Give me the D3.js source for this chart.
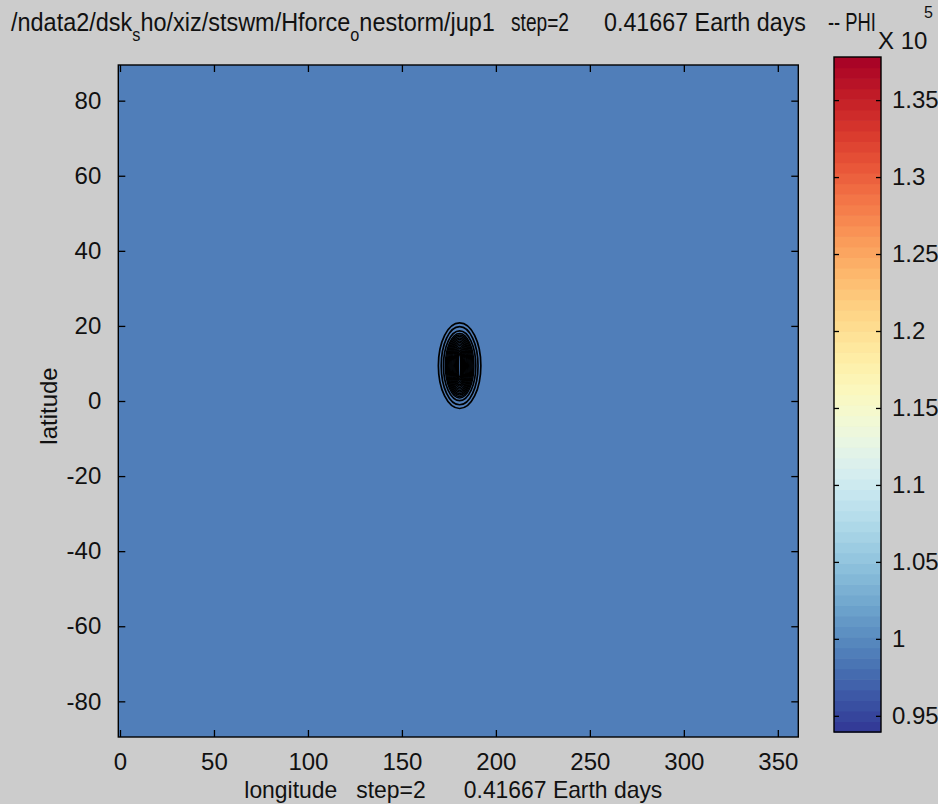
<!DOCTYPE html>
<html>
<head>
<meta charset="utf-8">
<script src="https://cdn.jsdelivr.net/npm/d3@7"></script>
<style>
  html, body { margin: 0; padding: 0; background: #cccccc; }
  svg { display: block; }
  text { font-family: "Liberation Sans", Arial, Helvetica, sans-serif; fill: #111; }
</style>
</head>
<body>
<svg id="fig" width="938" height="804"></svg>
<script>
// ---- data (PHI in units of 1e5) ----
const lonTicks = [0, 50, 100, 150, 200, 250, 300, 350];
const latTicks = [-80, -60, -40, -20, 0, 20, 40, 60, 80];
const phiTicks = [0.95, 1, 1.05, 1.1, 1.15, 1.2, 1.25, 1.3, 1.35];
const lonLimits = [-0.9, 360.9];
const latLimits = [-89.5, 89.5];
const phiLimits = [0.9395, 1.378];
const colorSteps = 64;
const ambientPhi = 0.99;

// storm centre and nested contour rings of the height anomaly (half-widths in degrees)
const stormLon = 180.7;
const stormLat = 9.4;
const ringHalfLon = [11.3, 9.8, 8.6, 7.6, 7.1, 6.6, 6.1, 5.6, 5.1, 4.6, 4.1, 3.6, 3.1, 2.6, 2.1, 1.6, 1.1, 0.6];
const ringHalfLat = [11.4, 10.4, 9.3, 8.6, 8.2, 7.8, 7.4, 7.0, 6.6, 6.2, 5.8, 5.4, 5.0, 4.6, 4.2, 3.8, 3.4, 3.0];

const titleParts = [
  { x: 11,  w: 484, y: 31, segs: [["/ndata2/dsk", 0], ["s", 1], ["ho/xiz/stswm/Hforce", 0], ["o", 1], ["nestorm/jup1", 0]] },
  { x: 511, w: 58,  y: 31, segs: [["step=2", 0]] },
  { x: 604, w: 202, y: 31, segs: [["0.41667 Earth days", 0]] },
  { x: 828, w: 48,  y: 31, segs: [["-- PHI", 0]] }
];
const xLabel = "longitude   step=2      0.41667 Earth days";
const yLabel = "latitude";

// ---- layout ----
const svg = d3.select("#fig");
const plot = { left: 118.3, right: 798.3, top: 65, bottom: 737 };
const cbar = { left: 834, right: 881, top: 57, bottom: 732 };

const x = d3.scaleLinear().domain(lonLimits).range([plot.left, plot.right]);
const y = d3.scaleLinear().domain(latLimits).range([plot.bottom, plot.top]);
const cy = d3.scaleLinear().domain(phiLimits).range([cbar.bottom, cbar.top]);

// quantized reversed RdYlBu colormap
const stepOf = v => Math.max(0, Math.min(colorSteps - 1,
  Math.floor((v - phiLimits[0]) / (phiLimits[1] - phiLimits[0]) * colorSteps)));
const colorOf = v => d3.interpolateRdYlBu(1 - (stepOf(v) + 0.5) / colorSteps);

// ---- field ----
svg.append("rect")
  .attr("x", x(lonLimits[0])).attr("y", y(latLimits[1]))
  .attr("width", x(lonLimits[1]) - x(lonLimits[0]))
  .attr("height", y(latLimits[0]) - y(latLimits[1]))
  .attr("fill", colorOf(ambientPhi));

// contour rings
svg.append("g").selectAll("ellipse")
  .data(ringHalfLon.map((hl, i) => ({ hl, ht: ringHalfLat[i], i })))
  .join("ellipse")
  .attr("cx", x(stormLon))
  .attr("cy", y(stormLat))
  .attr("rx", d => x(stormLon + d.hl) - x(stormLon))
  .attr("ry", d => y(stormLat - d.ht) - y(stormLat))
  .attr("fill", "none")
  .attr("stroke", "#000")
  .attr("stroke-width", d => d.i < 3 ? 1.7 : 1.5);

// ---- axes (ticks inward on all four sides) ----
const tickLen = 7;
const fontSize = 24;
const axB = d3.axisBottom(x).tickValues(lonTicks).tickSizeInner(-tickLen).tickSizeOuter(0).tickPadding(tickLen + 9).tickFormat(d => String(d));
const axT = d3.axisTop(x).tickValues(lonTicks).tickSizeInner(-tickLen).tickSizeOuter(0).tickFormat("");
const axL = d3.axisLeft(y).tickValues(latTicks).tickSizeInner(-tickLen).tickSizeOuter(0).tickPadding(tickLen + 10).tickFormat(d => String(d));
const axR = d3.axisRight(y).tickValues(latTicks).tickSizeInner(-tickLen).tickSizeOuter(0).tickFormat("");

function styleAxis(g) {
  g.select(".domain").remove();
  g.selectAll(".tick line").attr("stroke", "#000").attr("stroke-width", 1.3);
  g.selectAll(".tick text").attr("font-size", fontSize).attr("fill", "#111")
    .style("font-family", "'Liberation Sans', Arial, sans-serif");
}
svg.append("g").attr("transform", `translate(0,${plot.bottom})`).call(axB).call(styleAxis);
svg.append("g").attr("transform", `translate(0,${plot.top})`).call(axT).call(styleAxis);
svg.append("g").attr("transform", `translate(${plot.left},0)`).call(axL).call(styleAxis);
svg.append("g").attr("transform", `translate(${plot.right},0)`).call(axR).call(styleAxis);

svg.append("rect")
  .attr("x", plot.left).attr("y", plot.top)
  .attr("width", plot.right - plot.left).attr("height", plot.bottom - plot.top)
  .attr("fill", "none").attr("stroke", "#000").attr("stroke-width", 1.4);

// ---- colorbar ----
const bandEdges = d3.range(colorSteps + 1).map(i => phiLimits[0] + (phiLimits[1] - phiLimits[0]) * i / colorSteps);
svg.append("g").selectAll("rect")
  .data(d3.range(colorSteps))
  .join("rect")
  .attr("x", cbar.left)
  .attr("width", cbar.right - cbar.left)
  .attr("y", i => cy(bandEdges[i + 1]))
  .attr("height", i => cy(bandEdges[i]) - cy(bandEdges[i + 1]) + 0.6)
  .attr("fill", i => colorOf((bandEdges[i] + bandEdges[i + 1]) / 2));

const cbTick = 5;
const cbR = d3.axisRight(cy).tickValues(phiTicks).tickSizeInner(-cbTick).tickSizeOuter(0).tickPadding(cbTick + 6).tickFormat(d => String(d));
const cbL = d3.axisLeft(cy).tickValues(phiTicks).tickSizeInner(-cbTick).tickSizeOuter(0).tickFormat("");
svg.append("g").attr("transform", `translate(${cbar.right},0)`).call(cbR).call(styleAxis);
svg.append("g").attr("transform", `translate(${cbar.left},0)`).call(cbL).call(styleAxis);
svg.append("rect")
  .attr("x", cbar.left).attr("y", cbar.top)
  .attr("width", cbar.right - cbar.left).attr("height", cbar.bottom - cbar.top)
  .attr("fill", "none").attr("stroke", "#000").attr("stroke-width", 1.4);

// colorbar exponent
svg.append("text").attr("x", 878).attr("y", 49).attr("font-size", fontSize).text("X 10");
svg.append("text").attr("x", 924).attr("y", 18).attr("font-size", 16).text("5");

// ---- title: each run is its own text, the run group is squeezed to its width ----
titleParts.forEach(p => {
  const g = svg.append("g");
  let cx = 0;
  p.segs.forEach(([s, sub]) => {
    const t = g.append("text")
      .attr("x", cx).attr("y", sub ? 10 : 0)
      .attr("font-size", sub ? 18 : 26)
      .text(s);
    cx += t.node().getComputedTextLength();
  });
  const k = p.w / cx;
  g.attr("transform", `translate(${p.x},${p.y}) scale(${k},1)`);
});

// ---- axis labels ----
svg.append("text")
  .attr("x", (plot.left + plot.right) / 2 - 5).attr("y", 798)
  .attr("text-anchor", "middle").attr("font-size", fontSize)
  .attr("textLength", 418).attr("lengthAdjust", "spacingAndGlyphs")
  .style("white-space", "pre")
  .text(xLabel);

svg.append("text")
  .attr("transform", `translate(57,${(plot.top + plot.bottom) / 2 + 5}) rotate(-90)`)
  .attr("text-anchor", "middle").attr("font-size", fontSize)
  .text(yLabel);
</script>
</body>
</html>
